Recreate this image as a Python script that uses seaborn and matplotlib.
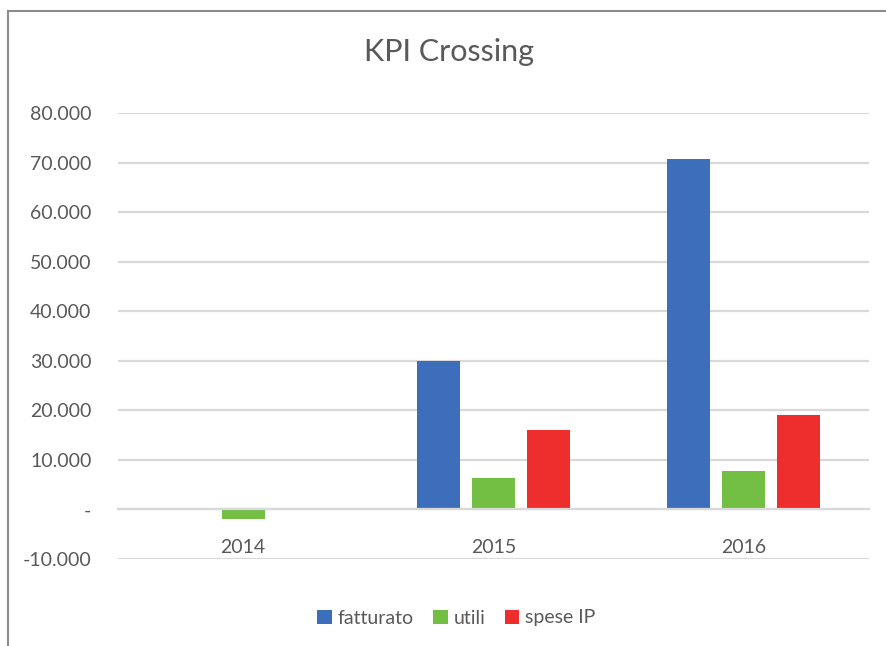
import matplotlib

matplotlib.use('Agg')
import matplotlib.pyplot as plt
import matplotlib.ticker as mticker
from matplotlib.patches import Rectangle
import seaborn as sns
import pandas as pd

# chart data
years = ['2014', '2015', '2016']
fatturato = [0, 30000, 70800]
utili = [-2000, 6300, 7700]
spese_ip = [0, 16100, 19100]
series_names = ['fatturato', 'utili', 'spese IP']
series_colors = ['#3C6EBC', '#72BF44', '#EE2D2D']
y_ticks = list(range(-10000, 80001, 10000))

df = pd.DataFrame({'anno': years * 3,
                   'serie': [s for s in series_names for _ in years],
                   'valore': fatturato + utili + spese_ip})

text_color = '#595959'
grid_color = '#D9D9D9'

sns.set_style('white')
plt.rcParams['font.family'] = ['Lato', 'DejaVu Sans']

fig = plt.figure(figsize=(8.86, 6.46), dpi=100)
ax = fig.add_axes([118 / 886, 1 - 559 / 646, 751 / 886, 446 / 646])

sns.barplot(data=df, x='anno', y='valore', hue='serie', hue_order=series_names,
            palette=series_colors, width=0.66, gap=0.22, ax=ax, legend=True,
            saturation=1, linewidth=0)

ax.set_ylim(-10000, 80000)
ax.set_yticks(y_ticks)


def excel_fmt(v, pos):
    if abs(v) < 1e-9:
        return '-'
    return f'{v:,.0f}'.replace(',', '.')


ax.yaxis.set_major_formatter(mticker.FuncFormatter(excel_fmt))
ax.grid(axis='y', color=grid_color, linewidth=1.6)
ax.set_axisbelow(True)
for side in ['left', 'right', 'top']:
    ax.spines[side].set_visible(False)
ax.spines['bottom'].set_position(('data', 0))
ax.spines['bottom'].set_color(grid_color)
ax.spines['bottom'].set_linewidth(1.6)

ax.tick_params(axis='y', length=0, pad=19, labelsize=14, labelcolor=text_color)
ax.tick_params(axis='x', length=0, pad=21, labelsize=14, labelcolor=text_color)
ax.set_xlabel('')
ax.set_ylabel('')

fig.text(0.5 + 6 / 886, 1 - 52 / 646, 'KPI Crossing', ha='center', va='center',
         fontsize=22, color=text_color)

handles, labels = ax.get_legend_handles_labels()
ax.legend_.remove()
fig.legend(handles, labels, loc='center', bbox_to_anchor=(0.515, 1 - 618 / 646),
           ncol=3, frameon=False, fontsize=14, labelcolor=text_color,
           handlelength=0.75, handleheight=0.75, handletextpad=0.3,
           columnspacing=1.0)

# chart frame (only left/top edges visible in the crop)
fig.patches.append(Rectangle((8 / 886, -0.1), 1.2, 1 - 11 / 646 + 0.1,
                             transform=fig.transFigure, fill=False,
                             edgecolor='#8C8C8C', linewidth=1.5))

fig.savefig('out.png', dpi=100)
